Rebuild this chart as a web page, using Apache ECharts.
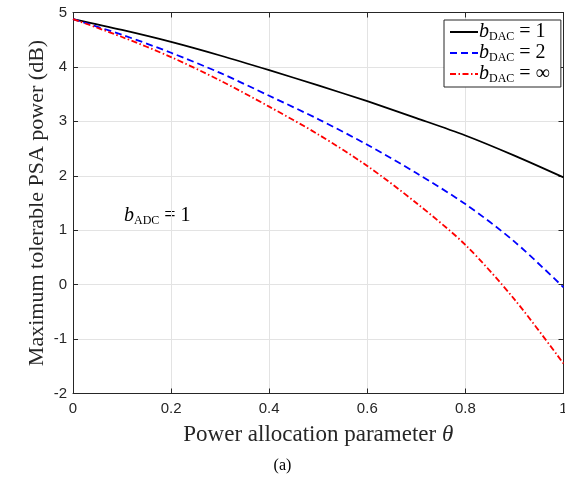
<!DOCTYPE html>
<html>
<head>
<meta charset="utf-8">
<script src="https://cdn.jsdelivr.net/npm/echarts@6/dist/echarts.min.js"></script>
<style>html,body{margin:0;padding:0;background:#fff;}#c{width:565px;height:485px;}</style>
</head>
<body>
<div id="c"></div>
<script>
var theta = [0, 0.1, 0.2, 0.3, 0.4, 0.5, 0.6, 0.7, 0.8, 0.9, 1.0];
var dac1 = [4.88, 4.68, 4.46, 4.21, 3.94, 3.66, 3.37, 3.06, 2.74, 2.37, 1.97];
var dac2 = [4.88, 4.59, 4.26, 3.89, 3.47, 3.04, 2.57, 2.05, 1.48, 0.79, -0.05];
var dacInf = [4.88, 4.55, 4.18, 3.75, 3.27, 2.76, 2.18, 1.50, 0.73, -0.27, -1.45];
var xTicks = [0, 0.2, 0.4, 0.6, 0.8, 1];
var yTicks = [-2, -1, 0, 1, 2, 3, 4, 5];
var legendNames = ['1', '2', '∞'];

function pairs(v){ return theta.map(function(t,i){ return [t, v[i]]; }); }

var chart = echarts.init(document.getElementById('c'));
var axisCol = '#262626';
var serif = 'Liberation Serif';
var sans = 'Liberation Sans';

var rich = {
  b: {fontFamily: serif, fontStyle: 'italic', fontSize: 20, color: '#000', lineHeight: 22, verticalAlign: 'middle'},
  s: {fontFamily: serif, fontSize: 12, color: '#000', lineHeight: 22, verticalAlign: 'bottom'},
  t: {fontFamily: serif, fontSize: 20, color: '#000', lineHeight: 22, verticalAlign: 'middle'}
};

function baseX(pos, showLabel){
  return {
    type: 'value', min: 0, max: 1, interval: 0.2, position: pos,
    axisLine: {show: true, onZero: false, lineStyle: {color: axisCol, width: 1}},
    axisTick: {show: true, inside: true, length: 5, lineStyle: {color: axisCol}},
    axisLabel: {show: showLabel, color: axisCol, fontFamily: sans, fontSize: 15, margin: 8,
      formatter: function(v){ return String(+v.toFixed(1)); }},
    splitLine: {show: showLabel, lineStyle: {color: '#e3e3e3', width: 1}}
  };
}
function baseY(pos, showLabel){
  return {
    type: 'value', min: -2, max: 5, interval: 1, position: pos,
    axisLine: {show: true, onZero: false, lineStyle: {color: axisCol, width: 1}},
    axisTick: {show: true, inside: true, length: 5, lineStyle: {color: axisCol}},
    axisLabel: {show: showLabel, color: axisCol, fontFamily: sans, fontSize: 15, margin: 6},
    splitLine: {show: showLabel, lineStyle: {color: '#e3e3e3', width: 1}}
  };
}

var x0 = baseX('bottom', true);
x0.name = '{n|Power allocation parameter }{i|θ}';
x0.nameLocation = 'middle';
x0.nameGap = 30;
x0.nameMoveOverlap = false;
x0.nameTextStyle = {rich: {
  n: {fontFamily: serif, fontSize: 23, color: axisCol},
  i: {fontFamily: serif, fontStyle: 'italic', fontSize: 23, color: axisCol}
}};
var x1 = baseX('top', false);

var y0 = baseY('left', true);
y0.name = 'Maximum tolerable PSA power (dB)';
y0.nameLocation = 'middle';
y0.nameGap = 25;
y0.nameMoveOverlap = false;
y0.nameTextStyle = {fontFamily: serif, fontSize: 22, color: axisCol};
var y1 = baseY('right', false);

var option = {
  animation: false,
  backgroundColor: '#fff',
  grid: {left: 73, right: 1.5, top: 12.5, bottom: 91.5, containLabel: false, outerBoundsMode: 'none'},
  xAxis: [x0, x1],
  yAxis: [y0, y1],
  legend: {
    orient: 'vertical', left: 444, top: 20,
    backgroundColor: '#fff', borderColor: axisCol, borderWidth: 1,
    padding: [2, 11, 2, 5], itemGap: 0, itemWidth: 28, itemHeight: 20,
    itemStyle: {opacity: 0},
    textStyle: {rich: rich, padding: [0, 0, 0, -4]},
    formatter: function(name){ return '{b|b}{s|DAC}{t| = ' + name + '}'; },
    data: legendNames
  },
  series: [
    {name: legendNames[0], type: 'line', data: pairs(dac1), smooth: 0.3, symbol: 'none',
     lineStyle: {color: '#000', width: 1.8, type: 'solid'}, itemStyle: {color: '#000'}},
    {name: legendNames[1], type: 'line', data: pairs(dac2), smooth: 0.3, symbol: 'none',
     lineStyle: {color: '#0000ff', width: 1.8, type: [7, 4]}, itemStyle: {color: '#0000ff'}},
    {name: legendNames[2], type: 'line', data: pairs(dacInf), smooth: 0.3, symbol: 'none',
     lineStyle: {color: '#ff0000', width: 1.8, type: [6, 2.5, 1.5, 2.5]}, itemStyle: {color: '#ff0000'}}
  ],
  graphic: [
    {type: 'text', left: 124, top: 206, style: {
      text: '{b|b}{s|ADC}{t| = 1}', rich: rich}},
    {type: 'text', left: 'center', top: 458, style: {
      text: '(a)', fontFamily: serif, fontSize: 16, fill: '#000'}}
  ]
};
chart.setOption(option);
</script>
</body>
</html>
